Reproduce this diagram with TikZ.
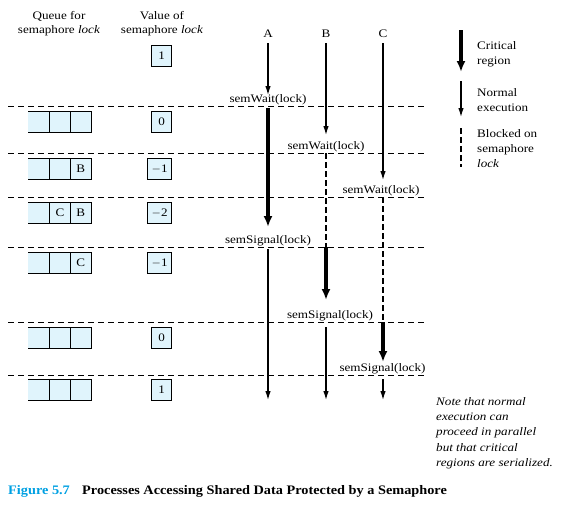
\documentclass[tikz,border=0pt]{standalone}
\usepackage{fontspec}
\setmainfont[FakeStretch=1.14]{Liberation Serif}
\newfontfamily\capfont[FakeStretch=1.1]{Liberation Serif}
\usetikzlibrary{arrows.meta}
\definecolor{boxfill}{RGB}{224,244,252}
\definecolor{figblue}{RGB}{0,160,226}
\begin{document}
\begin{tikzpicture}[x=1pt,y=-1pt,
  every node/.style={inner sep=0pt, font=\fontsize{11.5}{13}\selectfont},
  hline/.style={line width=0.8pt, dash pattern=on 6pt off 4pt},
  normalarrow/.style={line width=1.2pt, -{Latex[length=9pt,width=5.5pt]}},
  critarrow/.style={line width=4pt, -{Latex[length=11pt,width=9pt]}},
  blocked/.style={line width=2pt, dash pattern=on 6pt off 3pt},
  valbox/.style={draw, fill=boxfill, line width=0.8pt, minimum width=20pt,
    minimum height=21pt, inner xsep=4pt, anchor=north east},
  qline/.style={line width=0.8pt},
  semlbl/.style={anchor=south, inner sep=0.6pt},
  lbl/.style={anchor=base west},
  note/.style={anchor=base west, font=\itshape\fontsize{11.5}{13}\selectfont},
  capstyle/.style={anchor=base west, font=\capfont\bfseries\fontsize{13}{15}\selectfont}
  ]
\useasboundingbox (0,0) rectangle (565,504);

% headers
\node[anchor=base] (qh1) at (59,19) {Queue for};
\node[anchor=base] (qh2) at (59,33) {semaphore \textit{lock}};
\node[anchor=base] (vh1) at (162,19) {Value of};
\node[anchor=base] (vh2) at (162,33) {semaphore \textit{lock}};

% process labels
\node[anchor=base] (A) at (268,37.5) {A};
\node[anchor=base] (B) at (326,37.5) {B};
\node[anchor=base] (C) at (383,37.5) {C};

% horizontal dashed lines
\foreach \i/\y in {1/106,2/153,3/197,4/247,5/322,6/375}{
  \coordinate (hl\i) at (8,\y);
  \coordinate (hr\i) at (425,\y);
  \draw[hline] (hl\i) -- (hr\i);
}

% queues
\foreach \t in {111,158,202,252,327,379}{
  \fill[boxfill] (28,\t) rectangle (91,\t+21);
  \draw[qline] (28,\t) -- (91,\t) -- (91,\t+21) -- (28,\t+21);
  \draw[qline] (49.5,\t) -- (49.5,\t+21);
  \draw[qline] (70.5,\t) -- (70.5,\t+21);
}
\node (q2c) at (80.75,168.5) {B};
\node (q3b) at (60,212.5) {C};
\node (q3c) at (80.75,212.5) {B};
\node (q4c) at (80.75,262.5) {C};

% semaphore values
\node[valbox] (v0) at (172,45) {1};
\node[valbox] (v1) at (172,111) {0};
\node[valbox] (v2) at (172,158) {$-$1};
\node[valbox] (v3) at (172,202) {$-$2};
\node[valbox] (v4) at (172,252) {$-$1};
\node[valbox] (v5) at (172,327) {0};
\node[valbox] (v6) at (172,379) {1};

% process A
\coordinate (a1) at (268,43);  \coordinate (a2) at (268,95);
\coordinate (a3) at (268,108); \coordinate (a4) at (268,227);
\coordinate (a5) at (268,249); \coordinate (a6) at (268,400);
\draw[normalarrow] (a1) -- (a2);
\draw[critarrow] (a3) -- (a4);
\draw[normalarrow] (a5) -- (a6);

% process B
\coordinate (b1) at (326,43);  \coordinate (b2) at (326,135);
\coordinate (b3) at (326,153); \coordinate (b4) at (326,247);
\coordinate (b5) at (326,300); \coordinate (b6) at (326,327);
\coordinate (b7) at (326,400);
\draw[normalarrow] (b1) -- (b2);
\draw[blocked] (b3) -- (b4);
\draw[critarrow] (b4) -- (b5);
\draw[normalarrow] (b6) -- (b7);

% process C
\coordinate (c1) at (383,43);  \coordinate (c2) at (383,180);
\coordinate (c3) at (383,197); \coordinate (c4) at (383,322);
\coordinate (c5) at (383,362); \coordinate (c6) at (383,379);
\coordinate (c7) at (383,400);
\draw[normalarrow] (c1) -- (c2);
\draw[blocked] (c3) -- (c4);
\draw[critarrow] (c4) -- (c5);
\draw[normalarrow] (c6) -- (c7);

% operation labels
\node[semlbl] (wA) at (268,106) {semWait(lock)};
\node[semlbl] (wB) at (326,153) {semWait(lock)};
\node[semlbl] (wC) at (381,197) {semWait(lock)};
\node[semlbl] (sA) at (268,247) {semSignal(lock)};
\node[semlbl] (sB) at (330,322) {semSignal(lock)};
\node[semlbl] (sC) at (382.5,375) {semSignal(lock)};

% legend
\coordinate (l1) at (461,30);  \coordinate (l2) at (461,72);
\coordinate (l3) at (461,81);  \coordinate (l4) at (461,117);
\coordinate (l5) at (461,128); \coordinate (l6) at (461,167);
\draw[critarrow] (l1) -- (l2);
\draw[normalarrow] (l3) -- (l4);
\draw[blocked, line width=2.2pt] (l5) -- (l6);
\node[lbl] (lg1) at (477,49) {Critical};
\node[lbl] (lg2) at (477,64) {region};
\node[lbl] (lg3) at (477,96) {Normal};
\node[lbl] (lg4) at (477,111) {execution};
\node[lbl] (lg5) at (477,137) {Blocked on};
\node[lbl] (lg6) at (477,152) {semaphore};
\node[lbl] (lg7) at (477,167) {\textit{lock}};

% note
\node[note] (n1) at (436,405) {Note that normal};
\node[note] (n2) at (436,420) {execution can};
\node[note] (n3) at (436,435) {proceed in parallel};
\node[note] (n4) at (436,451) {but that critical};
\node[note] (n5) at (436,466) {regions are serialized.};

% caption
\node[capstyle, text=figblue] (fig) at (8,494) {Figure 5.7};
\node[capstyle] (cap) at (82,494) {Processes Accessing Shared Data Protected by a Semaphore};
\end{tikzpicture}
\end{document}
